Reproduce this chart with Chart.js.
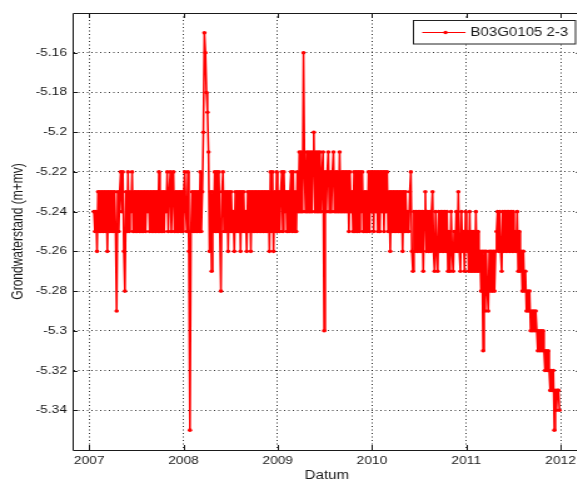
<!DOCTYPE html>
<html>
<head>
<meta charset="utf-8">
<title>B03G0105 2-3</title>
<script src="https://cdn.jsdelivr.net/npm/chart.js@4/dist/chart.umd.min.js"></script>
<style>
html, body { margin: 0; padding: 0; background: #fff; overflow: hidden; }
#myChart { display: block; }
</style>
</head>
<body>
<!-- the source figure is stretched sideways, so the canvas is drawn narrow and widened by css -->
<canvas id="myChart" width="466" height="481" style="width: 582.5px; height: 481px;"></canvas>
<script>
// groundwater level (m+mv), one reading every 4 days from 20 jan 2007
var firstReading = 2007.05;
var stepYears = 4 / 365.25;
var seriesLabel = "B03G0105 2-3";

var lv2007 = [
  -5.24,-5.25,-5.24,-5.26,-5.23,-5.25,-5.23,-5.25,-5.23,-5.25,
  -5.23,-5.25,-5.23,-5.26,-5.23,-5.25,-5.23,-5.25,-5.23,-5.25,
  -5.23,-5.25,-5.29,-5.23,-5.25,-5.23,-5.22,-5.24,-5.22,-5.26,
  -5.28,-5.23,-5.25,-5.22,-5.25,-5.23,-5.24,-5.22,-5.25,-5.23,
  -5.25,-5.23,-5.25,-5.23,-5.25,-5.23,-5.25,-5.23,-5.25,-5.23,
  -5.25,-5.23,-5.24,-5.23,-5.25,-5.23,-5.25,-5.23,-5.25,-5.23,
  -5.25,-5.23,-5.25,-5.22,-5.25,-5.23,-5.25,-5.23,-5.25,-5.23,
  -5.24,-5.22,-5.25,-5.23,-5.22,-5.25,-5.23,-5.22,-5.25,-5.23,
  -5.25,-5.23,-5.25,-5.23,-5.25,-5.23,-5.25
];
var lv2008 = [
  -5.23,-5.22,-5.24,-5.25,-5.22,-5.26,-5.35,-5.25,-5.23,-5.25,
  -5.23,-5.25,-5.23,-5.25,-5.23,-5.25,-5.22,-5.25,-5.23,-5.20,
  -5.15,-5.16,-5.18,-5.19,-5.21,-5.26,-5.23,-5.27,-5.23,-5.25,
  -5.22,-5.25,-5.22,-5.25,-5.22,-5.25,-5.28,-5.23,-5.22,-5.25,
  -5.23,-5.25,-5.23,-5.26,-5.23,-5.25,-5.23,-5.25,-5.24,-5.26,
  -5.23,-5.25,-5.23,-5.25,-5.23,-5.26,-5.23,-5.25,-5.23,-5.25,
  -5.24,-5.26,-5.23,-5.25,-5.23,-5.26,-5.23,-5.25,-5.23,-5.25,
  -5.23,-5.25,-5.23,-5.25,-5.23,-5.25,-5.23,-5.25,-5.23,-5.25,
  -5.23,-5.25,-5.23,-5.26,-5.22,-5.25,-5.22,-5.26,-5.23,-5.25,
  -5.22
];
var lv2009 = [
  -5.25,-5.23,-5.25,-5.23,-5.22,-5.25,-5.22,-5.24,-5.23,-5.25,
  -5.23,-5.25,-5.23,-5.22,-5.25,-5.22,-5.25,-5.23,-5.25,-5.22,
  -5.24,-5.21,-5.24,-5.21,-5.24,-5.16,-5.22,-5.24,-5.21,-5.24,
  -5.21,-5.24,-5.21,-5.24,-5.21,-5.20,-5.24,-5.21,-5.24,-5.21,
  -5.24,-5.21,-5.24,-5.22,-5.21,-5.30,-5.22,-5.24,-5.22,-5.21,
  -5.24,-5.22,-5.24,-5.22,-5.21,-5.24,-5.22,-5.24,-5.22,-5.24,
  -5.21,-5.24,-5.22,-5.24,-5.22,-5.24,-5.22,-5.24,-5.22,-5.25,
  -5.22,-5.24,-5.23,-5.25,-5.22,-5.25,-5.22,-5.25,-5.22,-5.25,
  -5.22,-5.24,-5.22,-5.25,-5.23,-5.25,-5.23,-5.25,-5.22,-5.25,
  -5.22
];
var lv2010 = [
  -5.24,-5.22,-5.25,-5.22,-5.24,-5.22,-5.25,-5.22,-5.25,-5.22,
  -5.24,-5.22,-5.25,-5.22,-5.24,-5.22,-5.25,-5.23,-5.26,-5.23,
  -5.25,-5.23,-5.25,-5.23,-5.25,-5.23,-5.25,-5.23,-5.25,-5.23,
  -5.26,-5.23,-5.25,-5.23,-5.25,-5.24,-5.25,-5.23,-5.22,-5.26,
  -5.27,-5.24,-5.26,-5.24,-5.26,-5.24,-5.26,-5.24,-5.26,-5.24,
  -5.27,-5.24,-5.23,-5.26,-5.24,-5.26,-5.24,-5.26,-5.24,-5.23,
  -5.26,-5.27,-5.24,-5.26,-5.27,-5.24,-5.26,-5.24,-5.26,-5.24,
  -5.26,-5.24,-5.26,-5.24,-5.27,-5.25,-5.27,-5.24,-5.26,-5.27,
  -5.25,-5.26,-5.24,-5.26,-5.23,-5.26,-5.27,-5.24,-5.26,-5.25,
  -5.27,-5.24,-5.26
];
var lv2011 = [
  -5.25,-5.27,-5.24,-5.27,-5.25,-5.27,-5.25,-5.27,-5.24,-5.27,
  -5.25,-5.27,-5.26,-5.28,-5.26,-5.31,-5.26,-5.29,-5.26,-5.28,
  -5.29,-5.26,-5.28,-5.26,-5.28,-5.26,-5.28,-5.26,-5.25,-5.24,
  -5.26,-5.24,-5.26,-5.27,-5.24,-5.26,-5.24,-5.26,-5.24,-5.26,
  -5.24,-5.26,-5.24,-5.26,-5.24,-5.26,-5.25,-5.26,-5.24,-5.27,
  -5.25,-5.27,-5.26,-5.28,-5.26,-5.28,-5.27,-5.29,-5.28,-5.29,
  -5.28,-5.30,-5.29,-5.30,-5.29,-5.30,-5.29,-5.30,-5.31,-5.30,
  -5.31,-5.30,-5.31,-5.30,-5.31,-5.32,-5.31,-5.32,-5.31,-5.32,
  -5.33,-5.32,-5.33,-5.32,-5.35,-5.33,-5.34,-5.33,-5.33,-5.34
];

var yearTicks = [2007, 2008, 2009, 2010, 2011, 2012];
var levelTicks = [-5.34, -5.32, -5.3, -5.28, -5.26, -5.24, -5.22, -5.2, -5.18, -5.16];

var levels = lv2007.concat(lv2008, lv2009, lv2010, lv2011);
var points = levels.map(function (v, i) {
  return { x: firstReading + i * stepYears, y: v };
});

Chart.defaults.font.family = "'Liberation Sans', Arial, Helvetica, sans-serif";
Chart.defaults.color = "#1a1a1a";

// matlab style box, inward ticks and the framed legend
var frame = {
  id: "frame",
  afterDraw: function (chart) {
    var ctx = chart.ctx;
    var a = chart.chartArea;
    var xs = chart.scales.x;
    var ys = chart.scales.y;
    ctx.save();
    ctx.strokeStyle = "#1a1a1a";
    ctx.lineWidth = 1;
    ctx.beginPath();
    ctx.rect(a.left, Math.round(a.top) + 0.5, a.right - a.left, Math.round(a.bottom) - Math.round(a.top));
    yearTicks.forEach(function (t) {
      var px = Math.round(xs.getPixelForValue(t)) + 0.5;
      ctx.moveTo(px, a.bottom);
      ctx.lineTo(px, a.bottom - 5);
      ctx.moveTo(px, a.top);
      ctx.lineTo(px, a.top + 5);
    });
    levelTicks.forEach(function (t) {
      var py = Math.round(ys.getPixelForValue(t)) + 0.5;
      ctx.moveTo(a.left, py);
      ctx.lineTo(a.left + 3.5, py);
      ctx.moveTo(a.right, py);
      ctx.lineTo(a.right - 3.5, py);
    });
    ctx.stroke();

    ctx.font = "12px 'Liberation Sans', Arial, sans-serif";
    var label = chart.data.datasets[0].label;
    var boxW = Math.round(ctx.measureText(label).width + 51) + 0.5;
    var boxR = a.right - 4;
    var boxL = boxR - boxW;
    var boxT = a.top + 7.5;
    var boxH = 23.5;
    var midY = boxT + 12;
    ctx.fillStyle = "#fff";
    ctx.fillRect(boxL, boxT, boxW, boxH);
    ctx.strokeStyle = "#222";
    ctx.strokeRect(boxL, boxT, boxW, boxH);
    ctx.strokeStyle = "#ff0000";
    ctx.beginPath();
    ctx.moveTo(boxL + 7, midY);
    ctx.lineTo(boxL + 41.6, midY);
    ctx.stroke();
    ctx.fillStyle = "#ff0000";
    ctx.beginPath();
    ctx.arc(boxL + 25.6, midY, 1.8, 0, Math.PI * 2);
    ctx.fill();
    ctx.fillStyle = "#1a1a1a";
    ctx.textBaseline = "middle";
    ctx.textAlign = "left";
    ctx.fillText(label, boxL + 45.6, midY);
    ctx.restore();
  }
};

var gridLook = { color: "rgba(0,0,0,0.8)", lineWidth: 1, drawTicks: false };
var borderLook = { display: false, dash: [1, 2.5] };

var ctx = document.getElementById("myChart").getContext("2d");
var myChart = new Chart(ctx, {
  type: "line",
  data: {
    datasets: [
      {
        label: seriesLabel,
        data: points,
        borderColor: "#ff0000",
        backgroundColor: "#ff0000",
        borderWidth: 1.6,
        pointRadius: 1.8,
        pointBorderWidth: 0,
        pointHoverRadius: 0,
        fill: false,
        tension: 0
      }
    ]
  },
  options: {
    responsive: false,
    animation: false,
    events: [],
    layout: { padding: { top: 13, right: 2, bottom: 0, left: 0 } },
    plugins: {
      legend: { display: false },
      tooltip: { enabled: false }
    },
    scales: {
      x: {
        type: "linear",
        min: 2006.83,
        max: 2012.212,
        afterBuildTicks: function (scale) {
          scale.ticks = yearTicks.map(function (v) { return { value: v }; });
        },
        afterFit: function (scale) { scale.height = 31; },
        grid: gridLook,
        border: borderLook,
        ticks: {
          padding: 4,
          autoSkip: false,
          maxRotation: 0,
          font: { size: 11 },
          callback: function (v) { return String(v); }
        },
        title: {
          display: true,
          text: "Datum",
          font: { size: 12, lineHeight: 1 },
          padding: { top: 0, bottom: -1 }
        }
      },
      y: {
        min: -5.36,
        max: -5.14,
        afterBuildTicks: function (scale) {
          scale.ticks = levelTicks.map(function (v) { return { value: v }; });
        },
        afterFit: function (scale) { scale.width = 58.5; },
        grid: gridLook,
        border: borderLook,
        ticks: {
          padding: 5,
          autoSkip: false,
          font: { size: 11 },
          callback: function (v) { return String(parseFloat(v.toFixed(2))); }
        },
        title: {
          display: true,
          text: "Grondwaterstand (m+mv)",
          font: { size: 12, lineHeight: 1.2 },
          padding: { top: 7, bottom: 0 }
        }
      }
    }
  },
  plugins: [frame]
});
</script>
</body>
</html>
